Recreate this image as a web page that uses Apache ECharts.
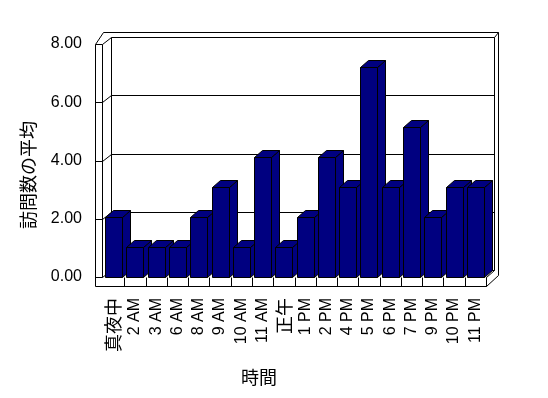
<!DOCTYPE html>
<html>
<head>
<meta charset="utf-8">
<script src="https://cdn.jsdelivr.net/npm/echarts@6/dist/echarts.min.js"></script>
<style>
  html, body { margin: 0; padding: 0; background: #fff; }
  #chart { width: 548px; height: 398px; }
</style>
</head>
<body>
<div id="chart"></div>
<script>
  const categories = ['真夜中', '2 AM', '3 AM', '6 AM', '8 AM', '9 AM', '10 AM', '11 AM', '正午',
    '1 PM', '2 PM', '4 PM', '5 PM', '6 PM', '7 PM', '9 PM', '10 PM', '11 PM']
  const visits = [2, 1, 1, 1, 2, 3, 1, 4, 1, 2, 4, 3, 7, 3, 5, 2, 3, 3]
  const yTicks = [0, 2, 4, 6, 8]

  const LATIN = '"Liberation Sans", "Noto Sans CJK JP"'
  const CJK = '"Noto Sans CJK JP"'
  const DX = 8, DY = -7 // depth offset of the 3d look
  const px = v => Math.round(v) + 0.5

  function seg(a, b, z2) {
    return {
      type: 'line', z2: z2 || 0,
      shape: { x1: px(a[0]), y1: px(a[1]), x2: px(b[0]), y2: px(b[1]) },
      style: { stroke: '#000', lineWidth: 1 }
    }
  }

  // walls, floor and gridlines
  function renderFrame(params, api) {
    const t = api.value(1)
    const cs = params.coordSys
    const L = cs.x, W = cs.x + 7, R = cs.x + cs.width
    const yTop = cs.y
    const y0 = api.coord([0, 0])[1]
    const y = api.coord([0, t])[1]
    const segs = [
      [[W + 9, y + DY], [R + DX, y + DY]],
      [[W, y], [W + 9, y + DY]],
      [[L, y], [W, y]]
    ]
    if (t === yTicks[yTicks.length - 1]) {
      segs.push(
        [[L, yTop], [L, y0 + 9]],
        [[W, yTop], [W, y0]],
        [[L, y0 + 9], [R, y0 + 9]],
        [[R, y0], [R, y0 + 9]],
        [[R, y0], [R + DX, y0 + DY]],
        [[R, y0 + 9], [R + 12, y0 - 2]],
        [[W + 9, yTop + DY], [W + 9, y0 + DY]],
        [[R + DX, yTop + DY], [R + DX, y0 + DY]],
        [[L, yTop], [L + 8, yTop - 12]],
        [[L + 8, yTop - 12], [R + 12, yTop - 12]],
        [[R + 12, yTop - 12], [R + 12, y0 - 2]],
        [[R + DX, yTop + DY], [R + 12, yTop - 12]]
      )
    }
    return { type: 'group', children: segs.map(s => seg(s[0], s[1])) }
  }

  function renderBar(params, api) {
    const i = api.value(0)
    const v = api.value(1)
    const base = api.coord([i, 0])
    const top = api.coord([i, v])
    const cell = api.size([1, 0])[0]
    const w = cell * 0.8
    const x0 = px(base[0] - w / 2), x1 = px(base[0] + w / 2)
    const yb = px(base[1]), yt = px(top[1])
    const edge = base[0] + cell / 2
    const style = { fill: '#000080', stroke: '#000', lineWidth: 1 }
    return {
      type: 'group',
      children: [
        { type: 'polygon', z2: i * 4, style: style,
          shape: { points: [[x1, yt], [x1 + DX, yt + DY], [x1 + DX, yb + DY], [x1, yb]] } },
        { type: 'polygon', z2: i * 4 + 1, style: style,
          shape: { points: [[x0, yt], [x0 + DX, yt + DY], [x1 + DX, yt + DY], [x1, yt]] } },
        { type: 'rect', z2: i * 4 + 2, style: style,
          shape: { x: x0, y: yt, width: x1 - x0, height: yb - yt } },
        seg([edge, base[1]], [edge, base[1] + 9], i * 4 + 3)
      ]
    }
  }

  const chart = echarts.init(document.getElementById('chart'), null, { renderer: 'canvas' })
  chart.setOption({
    backgroundColor: '#fff',
    animation: false,
    grid: [
      { left: 95, right: 62, top: 44, bottom: 121, outerBoundsMode: 'none' },
      { left: 103, right: 62, top: 37, bottom: 121, outerBoundsMode: 'none' }
    ],
    xAxis: [
      { gridIndex: 0, type: 'category', data: categories, show: false },
      {
        gridIndex: 1,
        type: 'category',
        data: categories,
        axisLine: { show: false },
        axisTick: { show: false },
        axisLabel: {
          interval: 0,
          rotate: 90,
          margin: 21,
          color: '#000',
          fontSize: 16,
          fontFamily: LATIN,
          formatter: v => /[^\x00-\x7f]/.test(v) ? '{c|' + v + '}' : v,
          rich: { c: { fontSize: 18, fontFamily: CJK, color: '#000' } }
        }
      }
    ],
    yAxis: [
      {
        gridIndex: 0,
        type: 'value',
        min: 0,
        max: 8,
        interval: 2,
        axisLine: { show: false },
        axisTick: { show: false },
        splitLine: { show: false },
        axisLabel: {
          margin: 13,
          color: '#000',
          fontSize: 16,
          fontFamily: LATIN,
          formatter: v => v.toFixed(2)
        }
      },
      { gridIndex: 1, type: 'value', min: 0, max: 8, show: false }
    ],
    series: [
      {
        type: 'custom',
        xAxisIndex: 0,
        yAxisIndex: 0,
        z: 1,
        silent: true,
        renderItem: renderFrame,
        data: yTicks.map(t => [0, t])
      },
      {
        type: 'custom',
        xAxisIndex: 1,
        yAxisIndex: 1,
        z: 3,
        renderItem: renderBar,
        encode: { x: 0, y: 1 },
        data: visits.map((v, i) => [i, v])
      }
    ],
    graphic: [
      {
        type: 'text', x: 28, y: 175, rotation: Math.PI / 2,
        style: { text: '訪問数の平均', font: '18px ' + CJK, fill: '#000',
          align: 'center', verticalAlign: 'middle', textAlign: 'center', textVerticalAlign: 'middle' }
      },
      {
        type: 'text', x: 259, y: 377,
        style: { text: '時間', font: '18px ' + CJK, fill: '#000',
          align: 'center', verticalAlign: 'middle', textAlign: 'center', textVerticalAlign: 'middle' }
      }
    ]
  })
</script>
</body>
</html>
